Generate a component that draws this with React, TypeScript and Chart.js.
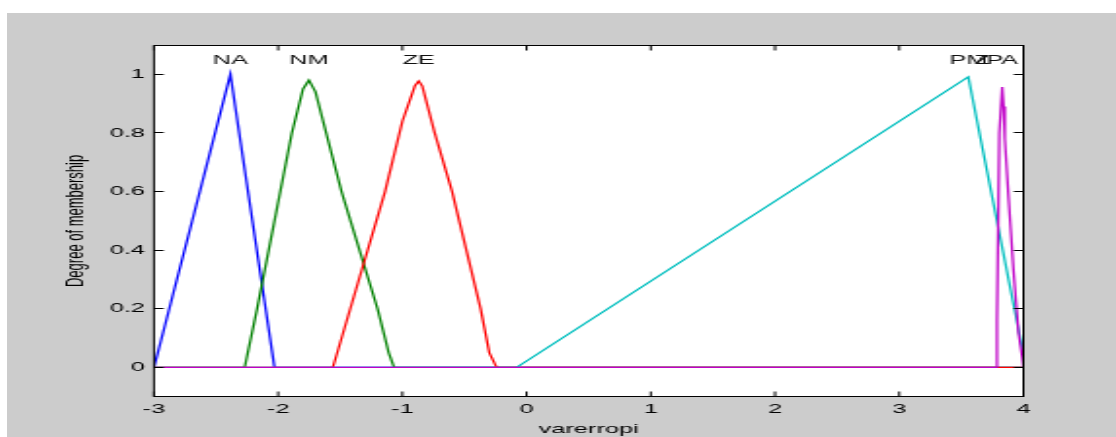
import React, { useEffect, useRef } from "react";
import { Chart, registerables } from "chart.js";
Chart.register(...registerables);

// ---- data ----
const xTicks = [-3, -2, -1, 0, 1, 2, 3, 4];
const yTicks = [0, 0.2, 0.4, 0.6, 0.8, 1];

const naX = [-3, -2.385, -2.03, 4];
const naY = [0, 1.0, 0, 0];

const nmX = [-3, -2.27, -2.17, -1.89, -1.8, -1.753, -1.7, -1.49, -1.2, -1.11, -1.067, 4];
const nmY = [0, 0, 0.2, 0.8, 0.95, 0.98, 0.94, 0.6, 0.2, 0.05, 0, 0];

const zeX = [-3, -1.56, -1.14, -1.0, -0.9, -0.869, -0.84, -0.74, -0.6, -0.37, -0.3, -0.242, 4];
const zeY = [0, 0, 0.6, 0.84, 0.96, 0.977, 0.96, 0.8, 0.6, 0.2, 0.05, 0, 0];

const pmX = [-3, -0.08, 3.556, 4];
const pmY = [0, 0, 0.991, 0.045];

const paX = [-3, 3.786, 3.787, 3.806, 3.829, 3.84, 3.85, 3.88, 3.92, 3.96, 3.99, 4];
const paY = [0, 0, 0.16, 0.8, 0.957, 0.89, 0.78, 0.58, 0.33, 0.12, 0.035, 0];

const mfColors = ["#0000ff", "#008000", "#ff0000", "#00bfbf", "#c000c8"];
const mfLabels = ["NA", "NM", "ZE", "PM", "Z", "PA"];
const mfLabelX = [-2.385, -1.753, -0.869, 3.556, 3.667, 3.829];
const mfLabelY = 1.05;

const xTitle = "varerropi";
const yTitle = "Degree of membership";

// ---- layout (unscaled canvas, stretched horizontally like the original) ----
const W = 569;
const H = 424;
const FIG_W = 1109;
const SX = FIG_W / W;
const FONT = "'Liberation Sans', Arial, sans-serif";

function pts(xs: number[], ys: number[]) {
  return xs.map((x, i) => ({ x, y: ys[i] }));
}

export default function App() {
  const ref = useRef<HTMLCanvasElement>(null);

  useEffect(() => {
    document.documentElement.style.overflow = "hidden";
    const canvas = ref.current!;
    const seriesX = [naX, nmX, zeX, pmX, paX];
    const seriesY = [naY, nmY, zeY, pmY, paY];
    // Chart.js draws the first dataset top-most: reverse so the last MF (magenta) is on top
    const datasets = seriesX
      .map((xs, i) => ({
        data: pts(xs, seriesY[i]),
        borderColor: mfColors[i],
        backgroundColor: mfColors[i],
        borderWidth: 1.25,
        pointRadius: 0,
        showLine: true,
        fill: false,
        tension: 0,
      }))
      .reverse();

    const framePlugin = {
      id: "matlabFrame",
      beforeDraw(chart: any) {
        const { ctx, chartArea: a } = chart;
        ctx.save();
        ctx.fillStyle = "#ffffff";
        ctx.fillRect(a.left, a.top, a.right - a.left, a.bottom - a.top);
        ctx.restore();
      },
      afterDatasetsDraw(chart: any) {
        const { ctx, chartArea: a, scales } = chart;
        const xs = scales.x;
        const ys = scales.y;
        ctx.save();
        ctx.strokeStyle = "#000";
        ctx.lineWidth = 1;
        const top = Math.round(a.top) + 0.5;
        const bot = Math.round(a.bottom) - 0.5;
        ctx.strokeRect(a.left, top, a.right - a.left, bot - top);
        const TL = 5;
        ctx.beginPath();
        xTicks.forEach((v) => {
          const px = xs.getPixelForValue(v);
          ctx.moveTo(px, bot);
          ctx.lineTo(px, bot - TL);
          ctx.moveTo(px, top);
          ctx.lineTo(px, top + TL);
        });
        yTicks.forEach((v) => {
          const py = Math.round(ys.getPixelForValue(v) - 0.5) + 0.5;
          ctx.moveTo(a.left, py);
          ctx.lineTo(a.left + TL, py);
          ctx.moveTo(a.right, py);
          ctx.lineTo(a.right - TL, py);
        });
        ctx.stroke();

        // membership function labels
        ctx.fillStyle = "#111";
        ctx.font = `13px ${FONT}`;
        ctx.textAlign = "center";
        ctx.textBaseline = "middle";
        mfLabels.forEach((t, i) => {
          ctx.fillText(t, xs.getPixelForValue(mfLabelX[i]), ys.getPixelForValue(mfLabelY) + 1);
        });

        // axis titles
        ctx.fillStyle = "#000";
        ctx.fillText(xTitle, (a.left + a.right) / 2, 416);
        ctx.translate(35.6, (a.top + a.bottom) / 2);
        ctx.rotate(-Math.PI / 2);
        ctx.fillText(yTitle, 0, 0);
        ctx.restore();
      },
    };

    const tickFont = { family: FONT, size: 13 };
    const chart = new Chart(canvas, {
      type: "scatter",
      data: { datasets: datasets as any },
      options: {
        animation: false,
        responsive: true,
        maintainAspectRatio: false,
        events: [],
        layout: { padding: { top: 32, right: 47.5, left: 0, bottom: 0 } },
        plugins: { legend: { display: false }, tooltip: { enabled: false } },
        scales: {
          x: {
            type: "linear",
            min: -3,
            max: 4,
            afterBuildTicks: (s: any) => {
              s.ticks = xTicks.map((v) => ({ value: v }));
            },
            afterFit: (s: any) => {
              s.height = 40.2;
            },
            grid: { display: false, drawTicks: false, tickLength: 0 },
            border: { display: false },
            ticks: {
              autoSkip: false,
              maxRotation: 0,
              padding: 5,
              color: "#000",
              font: tickFont,
              callback: (v: any) => String(v),
            },
          },
          y: {
            type: "linear",
            min: -0.1,
            max: 1.1,
            afterBuildTicks: (s: any) => {
              s.ticks = yTicks.map((v) => ({ value: v }));
            },
            afterFit: (s: any) => {
              s.width = 75.4;
            },
            grid: { display: false, drawTicks: false, tickLength: 0 },
            border: { display: false },
            ticks: {
              autoSkip: false,
              padding: 4.6,
              color: "#000",
              font: tickFont,
              callback: (v: any) => String(v),
            },
          },
        },
      } as any,
      plugins: [framePlugin],
    });
    return () => chart.destroy();
  }, []);

  return (
    <div
      style={{
        position: "absolute",
        left: 7,
        top: 13,
        width: FIG_W,
        height: H,
        background: "#cccccc",
        overflow: "hidden",
      }}
    >
      <div
        style={{
          position: "relative",
          width: W,
          height: H,
          transform: `scaleX(${SX})`,
          transformOrigin: "0 0",
        }}
      >
        <canvas ref={ref} />
      </div>
    </div>
  );
}
